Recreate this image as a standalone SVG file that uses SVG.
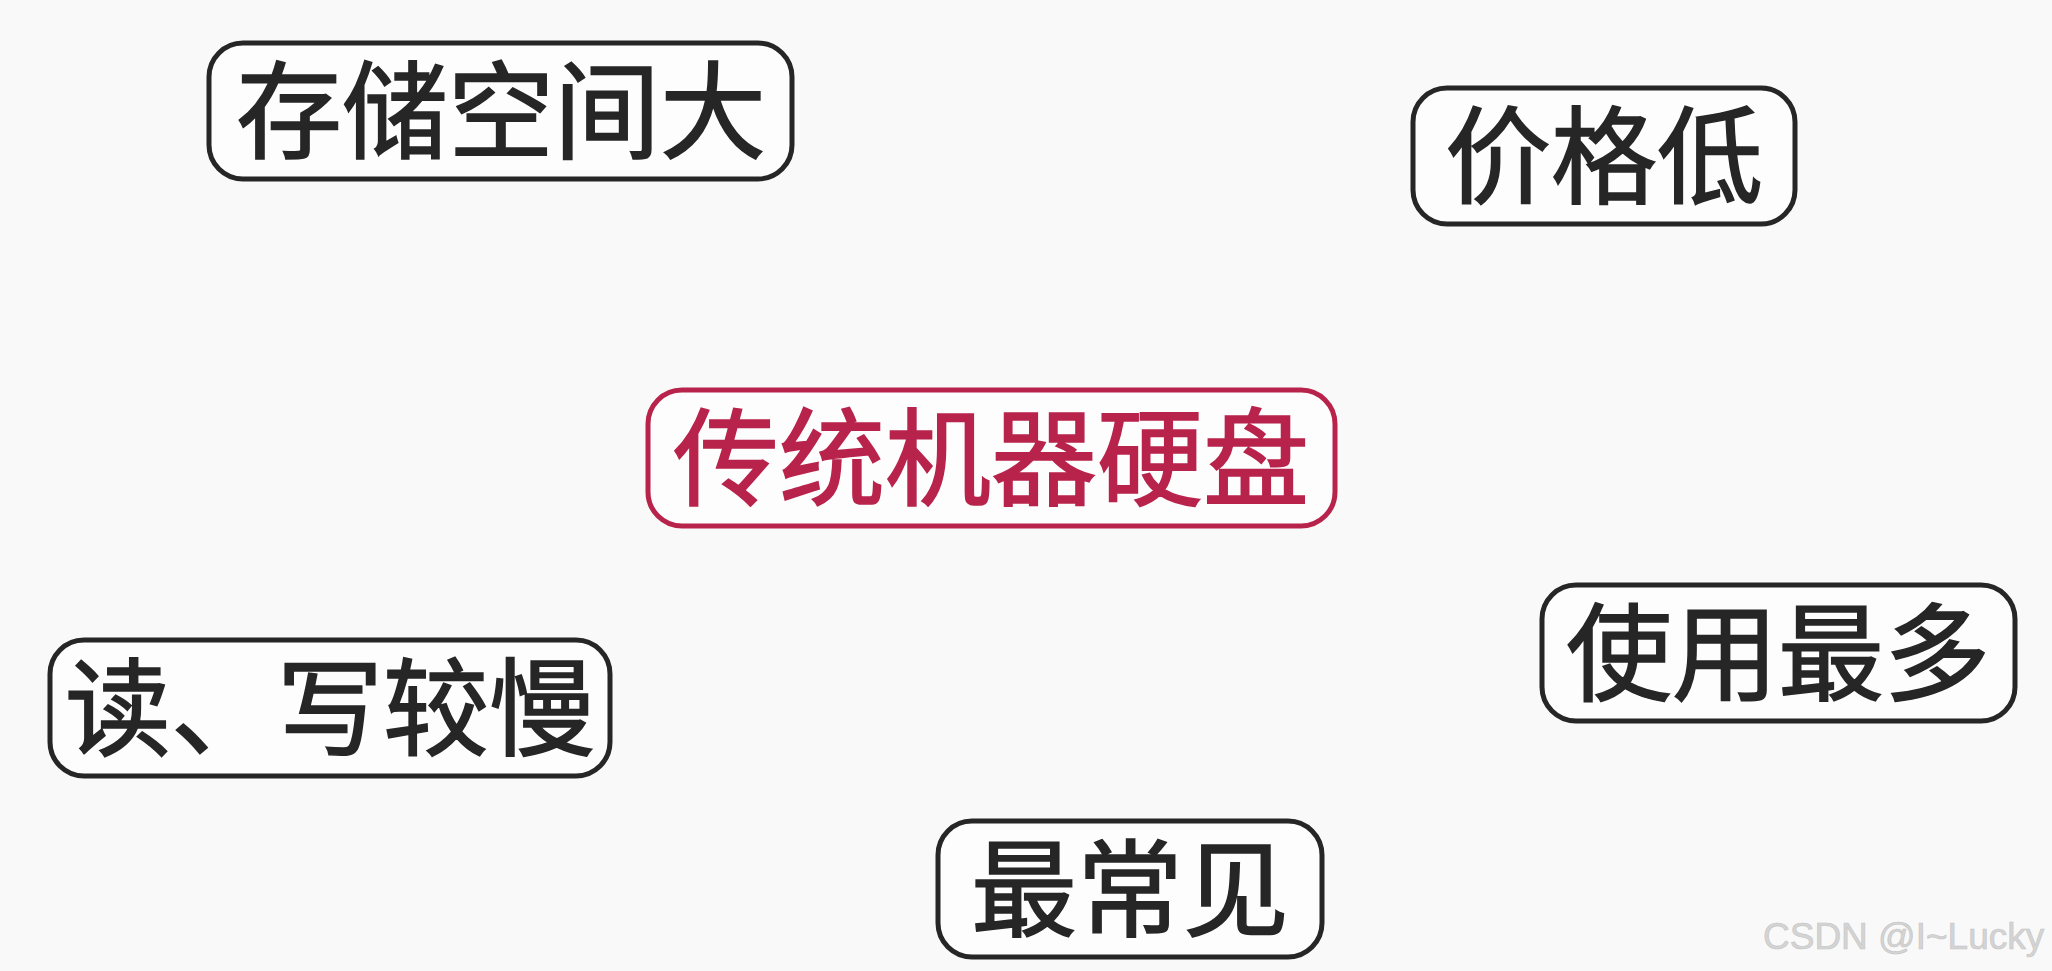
<svg xmlns="http://www.w3.org/2000/svg" width="2052" height="971" viewBox="0 0 2052 971">
<style>
.box{fill:#fdfdfd;stroke:#262626;stroke-width:5}
.red{stroke:#b8234c}
.t{font-family:"Noto Sans CJK SC","Noto Sans",sans-serif;font-size:106px;font-weight:400;fill:#262626;stroke:#262626;stroke-width:1.6;text-anchor:middle}
.tr{fill:#b8234c;stroke:#b8234c}
.wm{font-family:"Liberation Sans",Arial,sans-serif;font-size:37px;fill:#d4d4d4;stroke:#c4c4c4;stroke-width:0.6}
</style>
<rect width="2052" height="971" fill="#f9f9f9"/>
<g id="connectors"></g>
<g id="n1"><rect class="box" x="209" y="43" width="583" height="136" rx="34"/><text class="t" x="501" y="150">存储空间大</text></g>
<g id="n2"><rect class="box" x="1413" y="88" width="382" height="136" rx="34"/><text class="t" x="1604" y="195">价格低</text></g>
<g id="n3"><rect class="box red" x="648" y="390" width="687" height="136" rx="34"/><text class="t tr" x="991" y="497">传统机器硬盘</text></g>
<g id="n4"><rect class="box" x="50" y="640" width="560" height="136" rx="34"/><text class="t" x="330" y="747">读、写较慢</text></g>
<g id="n5"><rect class="box" x="1542" y="585" width="473" height="136" rx="34"/><text class="t" x="1778" y="692">使用最多</text></g>
<g id="n6"><rect class="box" x="938" y="821" width="384" height="136" rx="34"/><text class="t" x="1130" y="928">最常见</text></g>
<text class="wm" x="1763" y="949">CSDN @I~Lucky</text>
</svg>
